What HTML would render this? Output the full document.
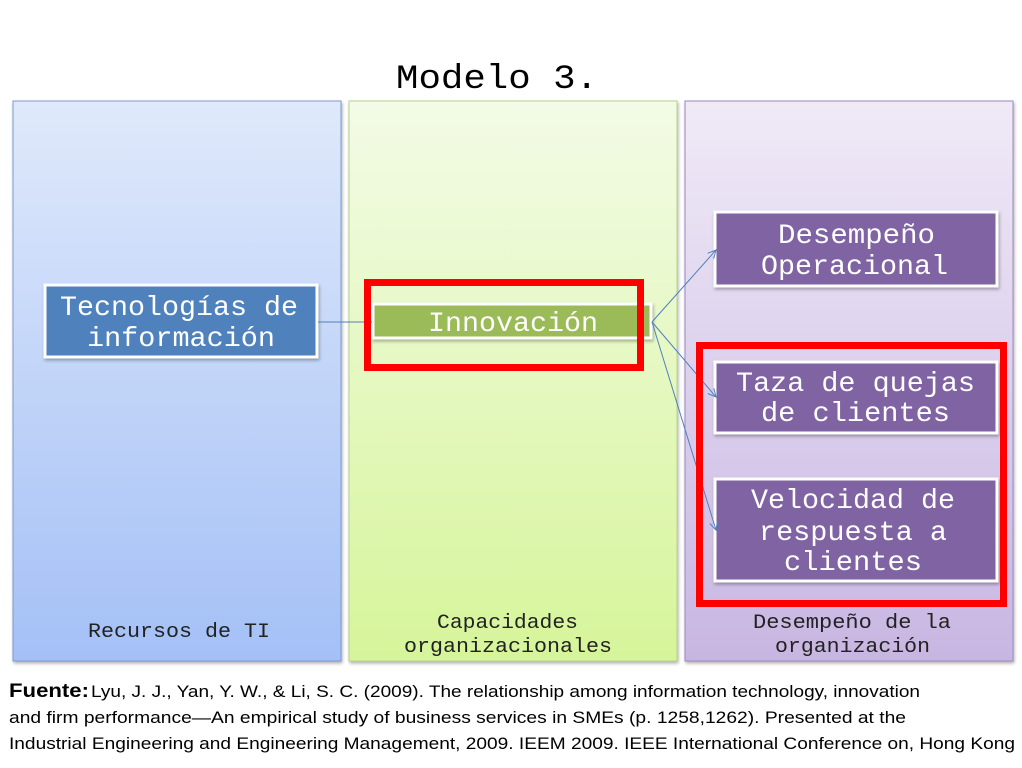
<!DOCTYPE html>
<html><head><meta charset="utf-8"><style>
html,body{margin:0;padding:0;background:#fff;}
svg{display:block;}
</style></head><body>
<svg width="1022" height="768" viewBox="0 0 1022 768" xmlns="http://www.w3.org/2000/svg">
<defs>
<linearGradient id="gb" x1="0" y1="0" x2="0" y2="1"><stop offset="0" stop-color="#dfe9fb"/><stop offset="1" stop-color="#a4c0f6"/></linearGradient>
<linearGradient id="gg" x1="0" y1="0" x2="0" y2="1"><stop offset="0" stop-color="#f3fbe6"/><stop offset="1" stop-color="#d6f59a"/></linearGradient>
<linearGradient id="gp" x1="0" y1="0" x2="0" y2="1"><stop offset="0" stop-color="#f0eaf7"/><stop offset="1" stop-color="#c8b6e2"/></linearGradient>
<filter id="sh" x="-5%" y="-5%" width="115%" height="125%"><feDropShadow dx="1" dy="2" stdDeviation="1.5" flood-color="#000" flood-opacity="0.3"/></filter>
<marker id="ar" markerWidth="10" markerHeight="10" refX="9" refY="5" orient="auto" markerUnits="userSpaceOnUse"><path d="M1,1 L9,5 L1,9" fill="none" stroke="#4f81bd" stroke-width="1"/></marker>
</defs>
<g font-family="Liberation Mono, monospace">
<text x="396" y="88" font-size="34" fill="#000" textLength="202" lengthAdjust="spacingAndGlyphs">Modelo 3.</text>
<rect x="13" y="101" width="328" height="560" fill="url(#gb)" stroke="#7c9bd0" stroke-width="1" filter="url(#sh)"/>
<rect x="349" y="101" width="328" height="560" fill="url(#gg)" stroke="#b6d48a" stroke-width="1" filter="url(#sh)"/>
<rect x="685" y="101" width="328" height="560" fill="url(#gp)" stroke="#9e88c0" stroke-width="1" filter="url(#sh)"/>
<g font-size="20" fill="#222">
<text x="88" y="637" textLength="182" lengthAdjust="spacingAndGlyphs">Recursos de TI</text>
<text x="437" y="628" textLength="141" lengthAdjust="spacingAndGlyphs">Capacidades</text>
<text x="404" y="652" textLength="208" lengthAdjust="spacingAndGlyphs">organizacionales</text>
<text x="753" y="628" textLength="198" lengthAdjust="spacingAndGlyphs">Desempeño de la</text>
<text x="775" y="652" textLength="155" lengthAdjust="spacingAndGlyphs">organización</text>
</g>
<rect x="45" y="285" width="272" height="72" fill="#4f81bd" stroke="#fff" stroke-width="3" filter="url(#sh)"/>
<rect x="373" y="304" width="278" height="34" fill="#9bbb59" stroke="#fff" stroke-width="3" filter="url(#sh)"/>
<rect x="715" y="212" width="282" height="74" fill="#8064a2" stroke="#fff" stroke-width="3" filter="url(#sh)"/>
<rect x="715" y="362" width="282" height="71" fill="#8064a2" stroke="#fff" stroke-width="3" filter="url(#sh)"/>
<rect x="715" y="479" width="282" height="102" fill="#8064a2" stroke="#fff" stroke-width="3" filter="url(#sh)"/>
<line x1="318" y1="322" x2="372" y2="322" stroke="#4f81bd" stroke-width="1"/>
<line x1="652" y1="322" x2="716" y2="250" stroke="#4f81bd" stroke-width="1" marker-end="url(#ar)"/>
<line x1="652" y1="322" x2="716" y2="397" stroke="#4f81bd" stroke-width="1" marker-end="url(#ar)"/>
<line x1="652" y1="322" x2="716" y2="530" stroke="#4f81bd" stroke-width="1" marker-end="url(#ar)"/>
<g font-size="28" fill="#fff">
<text x="60" y="315" textLength="238" lengthAdjust="spacingAndGlyphs">Tecnologías de</text>
<text x="87" y="346" textLength="188" lengthAdjust="spacingAndGlyphs">información</text>
<text x="428" y="331" textLength="170" lengthAdjust="spacingAndGlyphs">Innovación</text>
<text x="778" y="243" textLength="157" lengthAdjust="spacingAndGlyphs">Desempeño</text>
<text x="761" y="274" textLength="187" lengthAdjust="spacingAndGlyphs">Operacional</text>
<text x="736" y="391" textLength="239" lengthAdjust="spacingAndGlyphs">Taza de quejas</text>
<text x="761" y="421" textLength="189" lengthAdjust="spacingAndGlyphs">de clientes</text>
<text x="751" y="508" textLength="204" lengthAdjust="spacingAndGlyphs">Velocidad de</text>
<text x="759" y="540" textLength="188" lengthAdjust="spacingAndGlyphs">respuesta a</text>
<text x="784" y="570" textLength="138" lengthAdjust="spacingAndGlyphs">clientes</text>
</g>
<rect x="367.5" y="282.5" width="273" height="85" fill="none" stroke="#ff0000" stroke-width="7"/>
<rect x="699.5" y="345.5" width="304" height="258" fill="none" stroke="#ff0000" stroke-width="7"/>
</g>
<g font-family="Liberation Sans, sans-serif" font-size="17" fill="#000">
<text x="9" y="697" font-weight="bold" font-size="19" textLength="80" lengthAdjust="spacingAndGlyphs">Fuente:</text>
<text x="91" y="697" textLength="829" lengthAdjust="spacingAndGlyphs">Lyu, J. J., Yan, Y. W., &amp; Li, S. C. (2009). The relationship among information technology, innovation</text>
<text x="9" y="723" textLength="897" lengthAdjust="spacingAndGlyphs">and firm performance—An empirical study of business services in SMEs (p. 1258,1262). Presented at the</text>
<text x="9" y="749" textLength="1006" lengthAdjust="spacingAndGlyphs">Industrial Engineering and Engineering Management, 2009. IEEM 2009. IEEE International Conference on, Hong Kong</text>
</g>
</svg>
</body></html>
